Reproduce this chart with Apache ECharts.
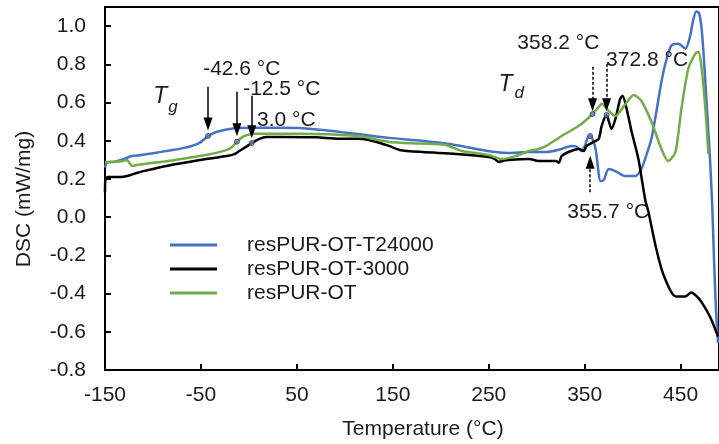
<!DOCTYPE html>
<html>
<head>
<meta charset="utf-8">
<script src="https://cdn.jsdelivr.net/npm/echarts@6/dist/echarts.min.js"></script>
<style>
  html, body { margin: 0; padding: 0; background: #ffffff; }
  #chart { width: 719px; height: 444px; }
</style>
</head>
<body>
<div id="chart"></div>
<script>
// DSC thermograms of the three resPUR foams
const seriesNames = ['resPUR-OT-T24000', 'resPUR-OT-3000', 'resPUR-OT'];

const t24000Temp = [-150, -148, -140, -130, -122, -112, -100, -86, -70, -58, -51, -45, -42.6, -37, -30, -20, -10, 10, 30, 52, 80, 112, 146, 180, 209, 232, 257, 271, 292, 310, 326, 336, 341, 347, 350, 353, 355.7, 358, 361.4, 366.6, 370, 375, 382, 392, 403, 409, 414, 419.6, 425, 430, 435, 440.4, 447.7, 455, 460, 463, 466.4, 469, 471.6, 474, 476.8, 479, 481, 483, 485, 487, 489];
const t24000Dsc  = [0.26, 0.285, 0.29, 0.305, 0.32, 0.325, 0.335, 0.346, 0.36, 0.375, 0.39, 0.415, 0.425, 0.44, 0.451, 0.462, 0.467, 0.468, 0.468, 0.467, 0.455, 0.436, 0.415, 0.40, 0.383, 0.362, 0.341, 0.336, 0.341, 0.341, 0.357, 0.373, 0.37, 0.346, 0.37, 0.415, 0.425, 0.41, 0.357, 0.189, 0.195, 0.252, 0.241, 0.215, 0.215, 0.252, 0.32, 0.41, 0.56, 0.709, 0.82, 0.898, 0.908, 0.882, 0.95, 1.03, 1.076, 1.07, 1.0, 0.85, 0.62, 0.44, 0.268, 0.05, -0.25, -0.5, -0.66];

const t3000Temp = [-150, -149.5, -147, -134, -127, -118, -110, -86, -51, -23, -15, -10, -4, 3.0, 11, 18, 35, 70, 94, 115, 129, 146, 157, 181, 216, 250, 256, 260.6, 265, 271, 292, 302, 320, 323, 326, 333, 344, 349, 352, 358, 364.6, 367.7, 372.8, 375, 378, 382, 387, 389.5, 393.7, 399, 406, 413, 416.5, 424, 430, 434, 440, 445, 455, 461, 466, 472, 481, 489];
const t3000Dsc  = [0.13, 0.2, 0.21, 0.21, 0.215, 0.23, 0.241, 0.268, 0.299, 0.32, 0.33, 0.346, 0.365, 0.388, 0.41, 0.42, 0.42, 0.418, 0.41, 0.41, 0.399, 0.373, 0.352, 0.341, 0.331, 0.315, 0.305, 0.289, 0.295, 0.299, 0.304, 0.294, 0.294, 0.285, 0.32, 0.341, 0.357, 0.346, 0.373, 0.39, 0.41, 0.478, 0.535, 0.504, 0.462, 0.514, 0.619, 0.635, 0.567, 0.446, 0.304, 0.094, 0.026, -0.152, -0.27, -0.325, -0.39, -0.415, -0.415, -0.394, -0.41, -0.446, -0.525, -0.625];

const otTemp = [-150, -140, -131, -127, -124, -121.9, -115, -103, -80, -51, -35, -23, -17, -12.5, -6.5, 0, 4, 52, 115, 129, 146, 180, 205, 222, 250, 264, 278, 292, 302, 310, 326, 344, 358.2, 364.6, 367.7, 375, 382, 392.6, 401, 409, 419.6, 430, 437, 444.6, 450.8, 458, 465.4, 468.5, 471.6, 475.8, 478.9];
const otDsc  = [0.289, 0.29, 0.294, 0.299, 0.28, 0.268, 0.275, 0.283, 0.297, 0.32, 0.335, 0.352, 0.37, 0.395, 0.42, 0.432, 0.436, 0.436, 0.425, 0.41, 0.394, 0.385, 0.378, 0.346, 0.325, 0.304, 0.32, 0.346, 0.357, 0.373, 0.425, 0.478, 0.54, 0.577, 0.593, 0.556, 0.53, 0.593, 0.64, 0.609, 0.499, 0.357, 0.294, 0.341, 0.567, 0.777, 0.856, 0.866, 0.793, 0.567, 0.331];

// glass transition and degradation onsets
const onsetTemps  = [-42.6, -12.5, 3.0, 358.2, 372.8, 355.7];
const onsetDsc    = [0.425, 0.395, 0.388, 0.54, 0.535, 0.425];
const onsetLabels = ['-42.6 °C', '-12.5 °C', '3.0 °C', '358.2 °C', '372.8 °C', '355.7 °C'];

// axis ticks
const xTicks = [-150, -50, 50, 150, 250, 350, 450];
const yTicks = [-0.8, -0.6, -0.4, -0.2, 0.0, 0.2, 0.4, 0.6, 0.8, 1.0];

const colors = ['#4472C4', '#000000', '#70AD47'];
const FONT = '"Liberation Sans", Arial, Helvetica, sans-serif';
const TEXT = '#1a1a1a';

const zip = (xs, ys) => xs.map((x, i) => [x, ys[i]]);
const curves = [zip(t24000Temp, t24000Dsc), zip(t3000Temp, t3000Dsc), zip(otTemp, otDsc)];

// arrow shafts (temperature, start DSC, end DSC, dashed?)
const arrows = [
  { t: onsetTemps[0], from: 0.682, to: 0.487, dashed: false },
  { t: onsetTemps[1], from: 0.656, to: 0.457, dashed: false },
  { t: onsetTemps[2], from: 0.635, to: 0.447, dashed: false },
  { t: onsetTemps[3], from: 0.787, to: 0.588, dashed: true },
  { t: onsetTemps[4], from: 0.803, to: 0.588, dashed: true },
  { t: onsetTemps[5], from: 0.131, to: 0.288, dashed: true }
];

// text anchors (left edge, vertical middle) in data units
const labelAnchors = [
  [-48.2, 0.772], [-6.5, 0.672], [8, 0.509],
  [279.3, 0.913], [371.8, 0.824], [331.3, 0.026]
];

const textStyleBase = { fontFamily: FONT, color: TEXT };

const markTexts = onsetLabels.map((txt, i) => ({
  coord: labelAnchors[i],
  label: Object.assign({ show: true, position: 'right', distance: 0, formatter: txt, fontSize: 21 }, textStyleBase)
}));
markTexts.push(
  { coord: [-100.1, 0.63], label: Object.assign({ show: true, position: 'right', distance: 0, formatter: 'T', fontSize: 23, fontStyle: 'italic' }, textStyleBase) },
  { coord: [-84.5, 0.577], label: Object.assign({ show: true, position: 'right', distance: 0, formatter: 'g', fontSize: 17, fontStyle: 'italic' }, textStyleBase) },
  { coord: [259.6, 0.693], label: Object.assign({ show: true, position: 'right', distance: 0, formatter: 'T', fontSize: 23, fontStyle: 'italic' }, textStyleBase) },
  { coord: [276.2, 0.651], label: Object.assign({ show: true, position: 'right', distance: 0, formatter: 'd', fontSize: 17, fontStyle: 'italic' }, textStyleBase) }
);

const chart = echarts.init(document.getElementById('chart'), null, { renderer: 'canvas' });

const lineSeries = curves.map((data, i) => ({
  name: seriesNames[i],
  type: 'line',
  data: data,
  showSymbol: false,
  symbol: 'none',
  smooth: 0.25,
  lineStyle: { color: colors[i], width: 2.5 },
  itemStyle: { color: colors[i] },
  animation: false,
  z: 2 + i
}));

const option = {
  animation: false,
  backgroundColor: '#ffffff',
  grid: {
    left: 105, top: 7, right: -2, bottom: 74,
    show: true, borderColor: '#000', borderWidth: 2, backgroundColor: 'transparent'
  },
  xAxis: {
    type: 'value', min: -150, max: 490, interval: 100,
    axisLine: { show: true, onZero: false, lineStyle: { color: '#000', width: 2 } },
    axisTick: { show: true, inside: true, length: 6, lineStyle: { color: '#000', width: 2 } },
    axisLabel: { showMaxLabel: false, margin: 15, fontSize: 21, fontFamily: FONT, color: TEXT,
      formatter: v => xTicks.indexOf(Math.round(v)) >= 0 ? String(Math.round(v)) : '' },
    splitLine: { show: false }
  },
  yAxis: {
    type: 'value', min: -0.8, max: 1.1, interval: 0.2,
    axisLine: { show: true, onZero: false, lineStyle: { color: '#000', width: 2 } },
    axisTick: { show: true, inside: true, length: 6, lineStyle: { color: '#000', width: 2 } },
    axisLabel: { showMaxLabel: false, margin: 19, fontSize: 21, fontFamily: FONT, color: TEXT,
      formatter: v => {
        const k = yTicks.findIndex(t => Math.abs(t - v) < 1e-6);
        return k >= 0 ? yTicks[k].toFixed(1) : '';
      } },
    splitLine: { show: false }
  },
  legend: {
    data: seriesNames.map((n, i) => ({ name: n, icon: 'rect', itemStyle: { color: colors[i] } })),
    orient: 'vertical',
    left: 170, top: 233,
    padding: 0,
    itemGap: 0,
    itemWidth: 47, itemHeight: 3,
    textStyle: { fontSize: 21, fontFamily: FONT, color: TEXT, lineHeight: 24, padding: [0, 0, 0, 25] }
  },
  graphic: [
    { type: 'text', silent: true, x: 24, y: 199, rotation: Math.PI / 2,
      style: { text: 'DSC (mW/mg)', fontSize: 21, fontFamily: FONT, fill: TEXT, align: 'center', verticalAlign: 'middle' } },
    { type: 'text', silent: true, x: 423, y: 429,
      style: { text: 'Temperature (°C)', fontSize: 21, fontFamily: FONT, fill: TEXT, align: 'center', verticalAlign: 'middle' } }
  ],
  series: lineSeries.concat([{
    name: 'onsets',
    type: 'scatter',
    data: zip(onsetTemps, onsetDsc),
    symbol: 'circle',
    symbolSize: 5,
    itemStyle: { color: '#6a7fae', borderColor: '#3a3f4f', borderWidth: 1 },
    z: 10,
    animation: false,
    markLine: {
      silent: true,
      animation: false,
      symbol: ['none', 'triangle'],
      symbolSize: [9, 13],
      label: { show: false },
      lineStyle: { color: '#000', width: 1.5, type: 'solid' },
      data: arrows.map(a => {
        const ls = { color: '#000', width: 1.5, type: a.dashed ? [3, 2] : 'solid' };
        return [{ coord: [a.t, a.from], lineStyle: ls }, { coord: [a.t, a.to], lineStyle: ls }];
      })
    },
    markPoint: {
      silent: true,
      animation: false,
      symbol: 'circle',
      symbolSize: 1,
      itemStyle: { color: 'rgba(0,0,0,0)' },
      data: markTexts
    }
  }])
};

chart.setOption(option);
</script>
</body>
</html>
